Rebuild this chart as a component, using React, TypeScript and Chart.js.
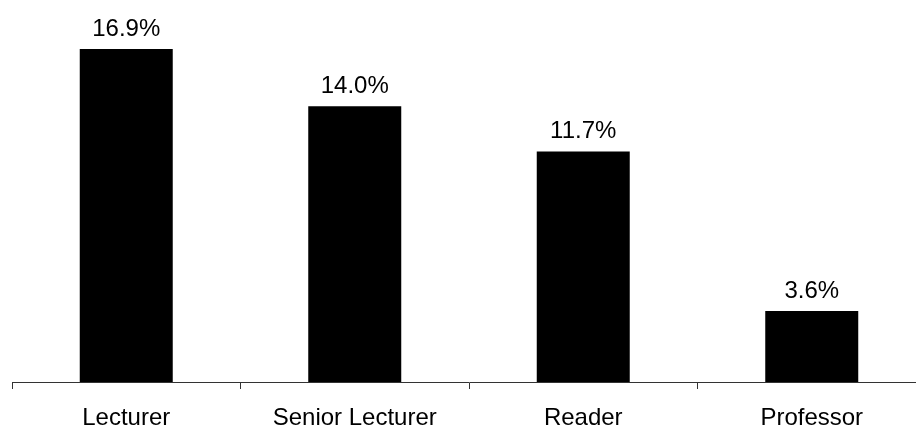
import React, { useEffect, useRef } from "react";
import { Chart, registerables } from "chart.js";

Chart.register(...registerables);

const categories = ["Lecturer", "Senior Lecturer", "Reader", "Professor"];
const values = [16.9, 14.0, 11.7, 3.6];
const valueLabels = ["16.9%", "14.0%", "11.7%", "3.6%"];

const FONT = "'Liberation Sans', Arial, Helvetica, sans-serif";

const valueLabelPlugin = {
  id: "valueLabels",
  afterDatasetsDraw(chart: any) {
    const ctx = chart.ctx;
    const meta = chart.getDatasetMeta(0);
    ctx.save();
    ctx.font = `24px ${FONT}`;
    ctx.fillStyle = "#000";
    ctx.textAlign = "center";
    ctx.textBaseline = "alphabetic";
    meta.data.forEach((bar: any, i: number) => {
      ctx.fillText(valueLabels[i], bar.x, bar.y - 13);
    });
    ctx.restore();
  },
};

export default function App() {
  const ref = useRef<HTMLCanvasElement>(null);
  useEffect(() => {
    if (!ref.current) return;
    const chart = new Chart(ref.current, {
      type: "bar",
      data: {
        labels: categories,
        datasets: [
          {
            data: values,
            backgroundColor: "#000",
            borderWidth: 0,
            barPercentage: 0.407,
            categoryPercentage: 1,
          },
        ],
      },
      options: {
        responsive: false,
        animation: false,
        layout: { padding: { left: 12, right: 0, top: 0, bottom: 0 } },
        plugins: { legend: { display: false }, tooltip: { enabled: false } },
        scales: {
          x: {
            offset: true,
            grid: {
              offset: true,
              drawOnChartArea: false,
              drawTicks: true,
              tickLength: 7,
              color: "#333",
              lineWidth: 1,
            },
            border: { display: true, color: "#333", width: 1 },
            ticks: {
              color: "#000",
              font: { family: FONT, size: 24 },
              padding: 15,
              maxRotation: 0,
              autoSkip: false,
            },
            afterFit: (scale: any) => {
              scale.height = 45;
            },
          },
          y: {
            display: false,
            min: 0,
            max: 19.39,
          },
        },
      },
      plugins: [valueLabelPlugin],
    });
    return () => chart.destroy();
  }, []);
  return (
    <div
      style={{
        position: "absolute",
        left: 0,
        top: 0,
        width: 916,
        height: 427,
        overflow: "hidden",
        background: "#fff",
      }}
    >
      <canvas ref={ref} width={926} height={427} style={{ display: "block" }} />
    </div>
  );
}
